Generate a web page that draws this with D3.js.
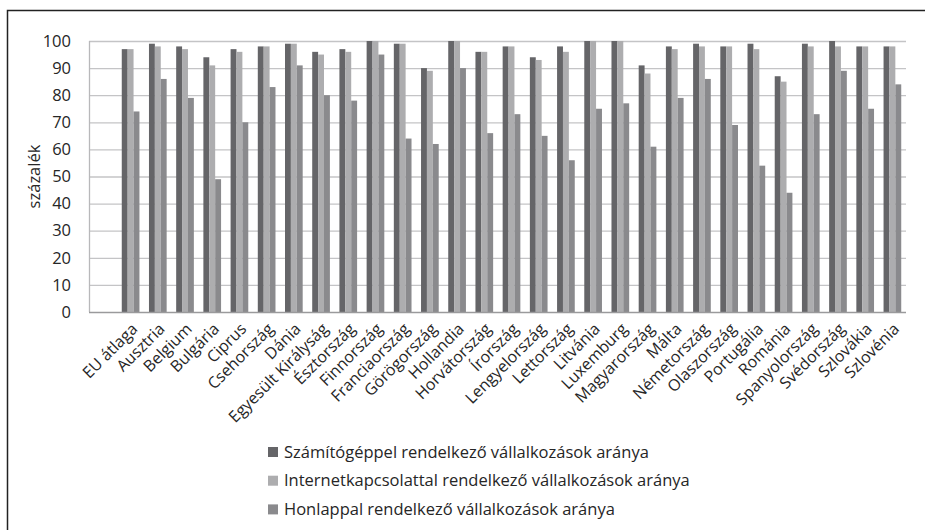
<!DOCTYPE html>
<html>
<head>
<meta charset="utf-8">
<script src="https://cdn.jsdelivr.net/npm/d3@7"></script>
<style>
  body { margin: 0; background: #fff; }
  text { font-family: "Open Sans", sans-serif; fill: #262626; }
</style>
</head>
<body>
<div id="chart"></div>
<script>
var svgWidth = 925;
var svgHeight = 530;

var categories = ["EU átlaga", "Ausztria", "Belgium", "Bulgária", "Ciprus", "Csehország", "Dánia",
    "Egyesült Királyság", "Észtország", "Finnország", "Franciaország", "Görögország", "Hollandia",
    "Horvátország", "Írország", "Lengyelország", "Lettország", "Litvánia", "Luxemburg",
    "Magyarország", "Málta", "Németország", "Olaszország", "Portugália", "Románia",
    "Spanyolország", "Svédország", "Szlovákia", "Szlovénia"];

var seriesNames = ["Számítógéppel rendelkező vállalkozások aránya",
    "Internetkapcsolattal rendelkező vállalkozások aránya",
    "Honlappal rendelkező vállalkozások aránya"];

var computer = [97, 99, 98, 94, 97, 98, 99, 96, 97, 100, 99, 90, 100, 96, 98, 94, 98, 100, 100, 91, 98, 99, 98, 99, 87, 99, 100, 98, 98];
var internet = [97, 98, 97, 91, 96, 98, 99, 95, 96, 100, 99, 89, 100, 96, 98, 93, 96, 100, 100, 88, 97, 98, 98, 97, 85, 98, 98, 98, 98];
var website = [74, 86, 79, 49, 70, 83, 91, 80, 78, 95, 64, 62, 90, 66, 73, 65, 56, 75, 77, 61, 79, 86, 69, 54, 44, 73, 89, 75, 84];

var yTicks = [0, 10, 20, 30, 40, 50, 60, 70, 80, 90, 100];
var colors = ["#656568", "#adadaf", "#8a8a8d"];

var plot = { left: 89, right: 906, top: 41, bottom: 312 };
// first slot of the category axis is left empty in the original
var firstSlot = 28;

var svg = d3.select("#chart")
    .append("svg")
    .attr("width", svgWidth)
    .attr("height", svgHeight);

// outer frame (runs off the right and bottom edge)
svg.append("path")
    .attr("d", `M7.5,${svgHeight + 5} V10.5 H${svgWidth + 5}`)
    .attr("fill", "none")
    .attr("stroke", "#222")
    .attr("stroke-width", 1.5);

var x0 = d3.scaleBand()
    .domain(categories)
    .range([plot.left + firstSlot, plot.right])
    .paddingInner(0.35)
    .paddingOuter(0.175);

var x1 = d3.scaleBand()
    .domain([0, 1, 2])
    .range([0, x0.bandwidth()]);

var y = d3.scaleLinear()
    .domain([0, 100])
    .range([plot.bottom, plot.top]);

// gridlines
svg.append("g")
    .selectAll("line")
    .data(yTicks.filter(d => d > 0))
    .enter()
    .append("line")
    .attr("x1", plot.left)
    .attr("x2", plot.right)
    .attr("y1", d => y(d) + 0.5)
    .attr("y2", d => y(d) + 0.5)
    .attr("stroke", "#c4c4c6")
    .attr("stroke-width", 1.3);

// vertical axis line
svg.append("line")
    .attr("x1", plot.left + 0.5)
    .attr("x2", plot.left + 0.5)
    .attr("y1", plot.top)
    .attr("y2", plot.bottom)
    .attr("stroke", "#b8b8ba")
    .attr("stroke-width", 1.3);

// y tick labels
var leftAxis = d3.axisLeft(y).tickValues(yTicks).tickSize(0).tickPadding(18);
var yAxisG = svg.append("g")
    .attr("transform", `translate(${plot.left}, 0)`)
    .call(leftAxis);
yAxisG.select(".domain").remove();
yAxisG.selectAll("text")
    .style("font-family", "'Open Sans', sans-serif")
    .style("font-size", "16.5px")
    .style("fill", "#262626");

svg.append("text")
    .attr("transform", `translate(40, ${(plot.top + plot.bottom) / 2}) rotate(-90)`)
    .attr("text-anchor", "middle")
    .style("font-size", "16.5px")
    .text("százalék");

// bars
var series = [computer, internet, website];
var groups = svg.append("g")
    .selectAll("g")
    .data(categories)
    .enter()
    .append("g")
    .attr("transform", d => `translate(${x0(d)}, 0)`);

groups.selectAll("rect")
    .data((d, i) => series.map((s, k) => ({ k: k, v: s[i] })))
    .enter()
    .append("rect")
    .attr("x", d => x1(d.k))
    .attr("width", x1.bandwidth())
    .attr("y", d => y(d.v))
    .attr("height", d => y(0) - y(d.v))
    .attr("fill", d => colors[d.k]);

// x axis line
svg.append("line")
    .attr("x1", plot.left)
    .attr("x2", plot.right)
    .attr("y1", plot.bottom + 0.5)
    .attr("y2", plot.bottom + 0.5)
    .attr("stroke", "#9a9a9c")
    .attr("stroke-width", 1.5);

// category labels
svg.append("g")
    .selectAll("text")
    .data(categories)
    .enter()
    .append("text")
    .attr("transform", d => `translate(${x0(d) + x0.bandwidth() / 2 + 4}, ${plot.bottom + 14}) rotate(-45)`)
    .attr("text-anchor", "end")
    .attr("dy", "0.35em")
    .style("font-size", "16px")
    .text(d => d);

// legend
var legend = svg.append("g")
    .selectAll("g")
    .data(seriesNames)
    .enter()
    .append("g")
    .attr("transform", (d, i) => `translate(268, ${452 + i * 28.7})`);

legend.append("rect")
    .attr("x", 0)
    .attr("y", -5)
    .attr("width", 10)
    .attr("height", 10)
    .attr("fill", (d, i) => colors[i]);

legend.append("text")
    .attr("x", 16)
    .attr("dy", "0.35em")
    .style("font-size", "16.5px")
    .text(d => d);
</script>
</body>
</html>
